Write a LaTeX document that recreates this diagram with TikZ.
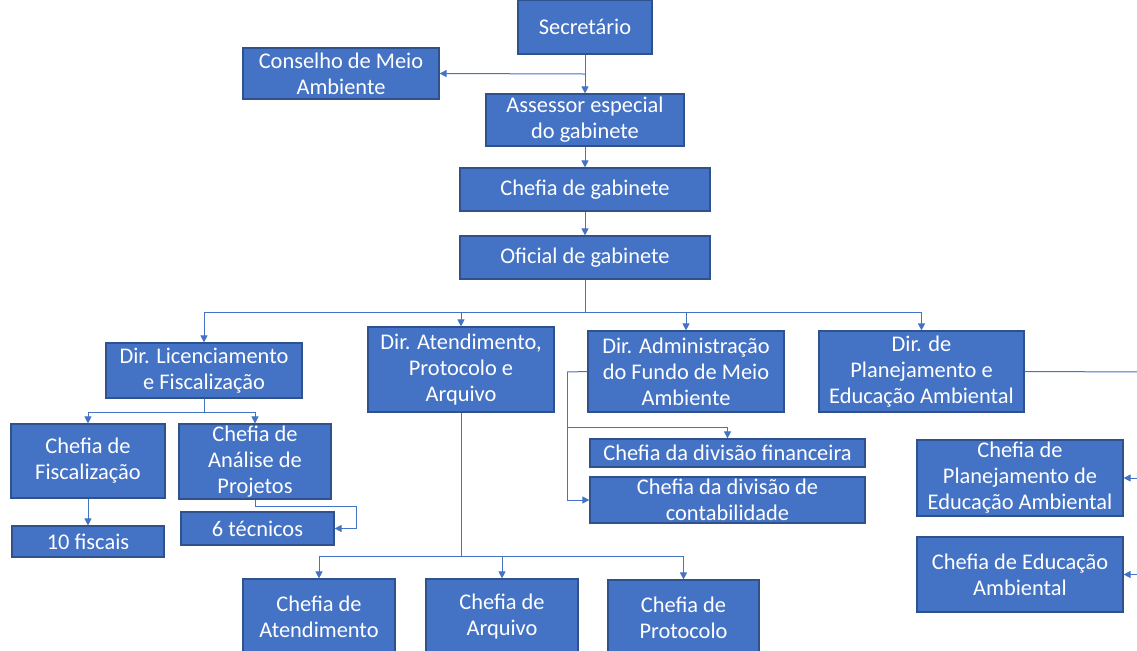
\documentclass[tikz,border=0pt]{standalone}
\usepackage{fontspec}
\setmainfont{Carlito}
\usetikzlibrary{arrows.meta}
\definecolor{boxblue}{HTML}{4472C4}
\definecolor{boxline}{HTML}{2F528F}
\definecolor{wire}{HTML}{4472C4}
\tikzstyle{unit} = [rectangle, draw = boxline, line width = 0.6pt, fill = boxblue, text = white, align = center, inner sep = 0pt, font = \fontsize{11.2}{13}\selectfont]
\tikzstyle{link} = [draw = wire, line width = 0.5pt]
\tikzstyle{post} = [link, -{Triangle[length = 3.5pt, width = 3.5pt]}]

\begin{document}
\begin{tikzpicture}[x = 0.5pt, y = -0.5pt]
        % page frame (pixel grid of the chart)
        \useasboundingbox (0,0) rectangle (1137,650);
        \fill[white] (0,0) rectangle (1137,650);
        \clip (0,0) rectangle (1137,650);

        % draw nodes
        \node[unit, minimum width = 67pt, minimum height = 27pt] (sec) at (585,27) {Secretário};
        \node[unit, minimum width = 98pt, minimum height = 25.5pt] (cons) at (341,73.5) {Conselho de Meio\\Ambiente};
        \node[unit, minimum width = 99pt, minimum height = 26pt] (assess) at (585,120) {Assessor especial\\do gabinete};
        \node[unit, minimum width = 125pt, minimum height = 21.5pt] (chefgab) at (585,189.5) {Chefia de gabinete};
        \node[unit, minimum width = 125pt, minimum height = 21.5pt] (ofic) at (585,257.5) {Oficial de gabinete};

        \node[unit, minimum width = 98pt, minimum height = 27.5pt] (dirlic) at (204,370.5) {Dir. Licenciamento\\e Fiscalização};
        \node[unit, minimum width = 93pt, minimum height = 42.5pt] (diratend) at (461,369.5) {Dir. Atendimento,\\Protocolo e\\Arquivo};
        \node[unit, minimum width = 98pt, minimum height = 40.5pt] (diradm) at (686,371.5) {Dir. Administração\\do Fundo de Meio\\Ambiente};
        \node[unit, minimum width = 102.5pt, minimum height = 40.5pt] (dirplan) at (921.5,371.5) {Dir. de\\Planejamento e\\Educação Ambiental};

        \node[unit, minimum width = 77pt, minimum height = 37pt] (chfisc) at (88,461) {Chefia de\\Fiscalização};
        \node[unit, minimum width = 76pt, minimum height = 37.5pt] (chanal) at (255,461.5) {Chefia de\\Análise de\\Projetos};
        \node[unit, minimum width = 76pt, minimum height = 15.5pt] (fiscais) at (88,541.5) {10 fiscais};
        \node[unit, minimum width = 76.5pt, minimum height = 16.5pt] (tecnicos) at (257.5,528.5) {6 técnicos};

        \node[unit, minimum width = 137.5pt, minimum height = 14pt] (chfin) at (727.5,453) {Chefia da divisão financeira};
        \node[unit, minimum width = 137.5pt, minimum height = 23pt] (chcont) at (727.5,500) {Chefia da divisão de\\contabilidade};
        \node[unit, minimum width = 103pt, minimum height = 38pt] (chplan) at (1020,478) {Chefia de\\Planejamento de\\Educação Ambiental};
        \node[unit, minimum width = 103pt, minimum height = 37.5pt] (chedu) at (1020,574.5) {Chefia de Educação\\Ambiental};

        \node[unit, minimum width = 76pt, minimum height = 38pt] (chatend) at (319,617) {Chefia de\\Atendimento};
        \node[unit, minimum width = 76pt, minimum height = 38pt] (charq) at (502,617) {Chefia de\\Arquivo};
        \node[unit, minimum width = 75.5pt, minimum height = 38pt] (chprot) at (683.5,618) {Chefia de\\Protocolo};

        % junction points of the buses
        \coordinate (j1) at (585,74);
        \coordinate (bus1) at (585,312);
        \coordinate (bus2) at (204,412);
        \coordinate (bus3) at (461,556);
        \coordinate (bus4) at (567,372);
        \coordinate (bus5) at (567,427);
        \coordinate (bus6) at (1150,372);
        \coordinate (c6) at (356,506);

        % draw arrows
        \draw[post] (sec.south) -- (assess.north);
        \draw[post] (j1) -- (cons.east);
        \draw[post] (assess) -- (chefgab);
        \draw[post] (chefgab) -- (ofic);

        \draw[post] (ofic.south) -- (bus1) -| (dirlic.north);
        \draw[post] (ofic.south) -- (bus1) -| (diratend.north);
        \draw[post] (ofic.south) -- (bus1) -| (diradm.north);
        \draw[post] (ofic.south) -- (bus1) -| (dirplan.north);

        \draw[post] (dirlic.south) -- (bus2) -| (chfisc.north);
        \draw[post] (dirlic.south) -- (bus2) -| (chanal.north);
        \draw[post] (chfisc) -- (fiscais);
        \draw[post] (chanal.south) |- (c6) |- (tecnicos.east);

        \draw[post] (diratend.south) -- (bus3) -| (chatend.north);
        \draw[post] (diratend.south) -- (bus3) -| (charq.north);
        \draw[post] (diratend.south) -- (bus3) -| (chprot.north);

        \draw[link] (diradm.west) -- (bus4);
        \draw[post] (bus4) |- (chcont.west);
        \draw[post] (bus5) -| (chfin.north);

        \draw[link] (dirplan.east) -- (bus6);
        \draw[post] (bus6) |- (chplan.east);
        \draw[post] (bus6) |- (chedu.east);
    \end{tikzpicture}
\end{document}
